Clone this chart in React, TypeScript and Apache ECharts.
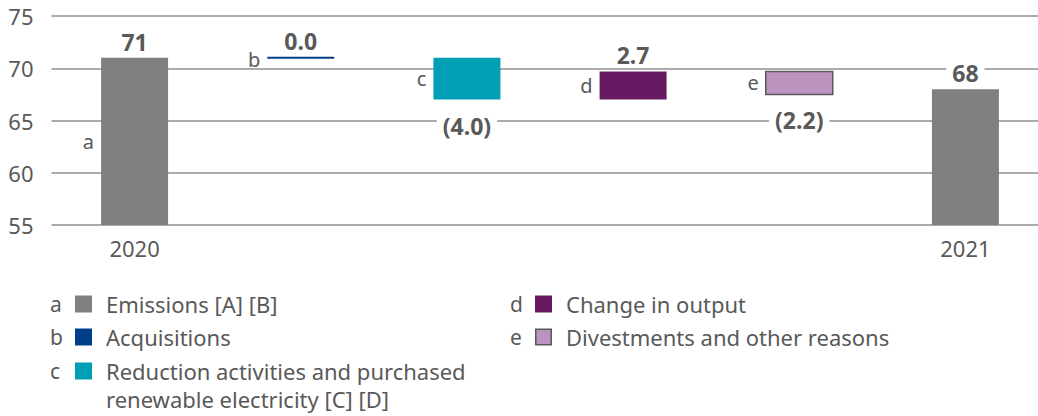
import React, { useEffect, useRef } from 'react';
import * as echarts from 'echarts';

const categories = ['2020', 'b', 'c', 'd', 'e', '2021'];
const axisLabels = ['2020', '', '', '', '', '2021'];
const letters = ['a', 'b', 'c', 'd', 'e', ''];
const kinds = ['total', 'delta', 'delta', 'delta', 'delta', 'total'];
const values = [71, 0.0, -4.0, 2.7, -2.2, 68];
const valueLabels = ['71', '0.0', '(4.0)', '2.7', '(2.2)', '68'];
const barColors = ['#808080', '#003F87', '#009FB5', '#651A61', '#BB93BF', '#808080'];
const barBorders = ['', '', '', '', '#595959', ''];
const yMin = 55;
const yMax = 75;
const yStep = 5;

const legendLetters = ['a', 'b', 'c', 'd', 'e'];
const legendNames = [
  'Emissions [A] [B]',
  'Acquisitions',
  'Reduction activities and purchased\nrenewable electricity [C] [D]',
  'Change in output',
  'Divestments and other reasons',
];
const legendColors = ['#808080', '#003F87', '#009FB5', '#651A61', '#BB93BF'];
const legendBorders = ['', '', '', '', '#595959'];

const TEXT = '#595959';
const FONT = '"Noto Sans", sans-serif';

export default function App() {
  const ref = useRef<HTMLDivElement>(null);
  useEffect(() => {
    if (!ref.current) return;
    const chart = echarts.init(ref.current, null, { renderer: 'svg' });

    let running = 0;
    const rows = values.map((v, i) => {
      let s: number, e: number;
      if (kinds[i] === 'total') {
        s = yMin;
        e = v;
        running = v;
      } else {
        s = running;
        e = running + v;
        running = e;
      }
      return [i, s, e, v];
    });

    const BAR_W = 67;

    const renderItem = (params: any, api: any) => {
      const i = api.value(0);
      const s = api.value(1);
      const e = api.value(2);
      const v = api.value(3);
      const p1 = api.coord([i, s]);
      const p2 = api.coord([i, e]);
      const cx = p1[0];
      let yTop = Math.min(p1[1], p2[1]);
      let yBot = Math.max(p1[1], p2[1]);
      let h = yBot - yTop;
      const thin = h < 2;
      if (thin) {
        yTop = p2[1] - 1;
        h = 2;
        yBot = yTop + h;
      }
      const border = barBorders[i];
      const children: any[] = [
        {
          type: 'rect',
          shape: { x: cx - BAR_W / 2, y: yTop, width: BAR_W, height: h },
          style: {
            fill: barColors[i],
            stroke: border || null,
            lineWidth: border ? 1.5 : 0,
          },
        },
      ];
      const neg = kinds[i] === 'delta' && v < 0;
      children.push({
        type: 'text',
        style: {
          text: valueLabels[i],
          x: cx,
          y: neg ? yBot + 26 : yTop - 16,
          align: 'center',
          verticalAlign: 'middle',
          font: `bold 23px ${FONT}`,
          fill: TEXT,
          backgroundColor: '#ffffff',
          padding: [0, 6],
        },
      });
      if (letters[i]) {
        children.push({
          type: 'text',
          style: {
            text: letters[i],
            x: cx - BAR_W / 2 - 7,
            y: thin ? yTop + 3 : (yTop + yBot) / 2,
            align: 'right',
            verticalAlign: 'middle',
            font: `20px ${FONT}`,
            fill: TEXT,
          },
        });
      }
      return { type: 'group', children };
    };

    const legendGraphics: any[] = [];
    const colX = [[50, 75, 106], [510, 535, 566]];
    const rowY = [304, 337, 371];
    legendNames.forEach((name, k) => {
      const col = k < 3 ? 0 : 1;
      const row = k < 3 ? k : k - 3;
      const [lx, sx, tx] = colX[col];
      const y = rowY[row];
      legendGraphics.push({
        type: 'text',
        x: lx,
        y: y,
        style: { text: legendLetters[k], font: `21px ${FONT}`, fill: TEXT, verticalAlign: 'middle' },
      });
      const b = legendBorders[k];
      legendGraphics.push({
        type: 'rect',
        shape: { x: sx + (b ? 0.75 : 0), y: y - 8.5 + (b ? 0.75 : 0), width: 17 - (b ? 1.5 : 0), height: 17 - (b ? 1.5 : 0) },
        style: { fill: legendColors[k], stroke: b || null, lineWidth: b ? 1.5 : 0 },
      });
      legendGraphics.push({
        type: 'text',
        x: tx,
        y: y - 14,
        style: {
          text: name,
          font: `22px ${FONT}`,
          fill: TEXT,
          lineHeight: 28,
          verticalAlign: 'top',
        },
      });
    });

    chart.setOption({
      animation: false,
      grid: { left: 51.5, top: 16, width: 997, height: 209, outerBoundsMode: 'none', containLabel: false },
      xAxis: {
        type: 'category',
        data: categories,
        axisLine: { show: false },
        axisTick: { show: false },
        axisLabel: {
          formatter: (_v: string, idx: number) => axisLabels[idx],
          color: TEXT,
          fontSize: 22,
          fontFamily: FONT,
          margin: 12,
        },
      },
      yAxis: {
        type: 'value',
        min: yMin,
        max: yMax,
        interval: yStep,
        axisLine: { show: false },
        axisTick: { show: false },
        axisLabel: { color: TEXT, fontSize: 22, fontFamily: FONT, margin: 18 },
        splitLine: { lineStyle: { color: '#8f8f8f', width: 1.5 } },
      },
      series: [
        {
          type: 'custom',
          renderItem,
          encode: { x: 0, y: [1, 2] },
          data: rows,
          clip: false,
        },
      ],
      graphic: legendGraphics,
    });

    return () => chart.dispose();
  }, []);

  return (
    <div
      ref={ref}
      style={{ position: 'absolute', left: 0, top: 0, width: 1038, height: 416, overflow: 'hidden', background: '#fff' }}
    />
  );
}
